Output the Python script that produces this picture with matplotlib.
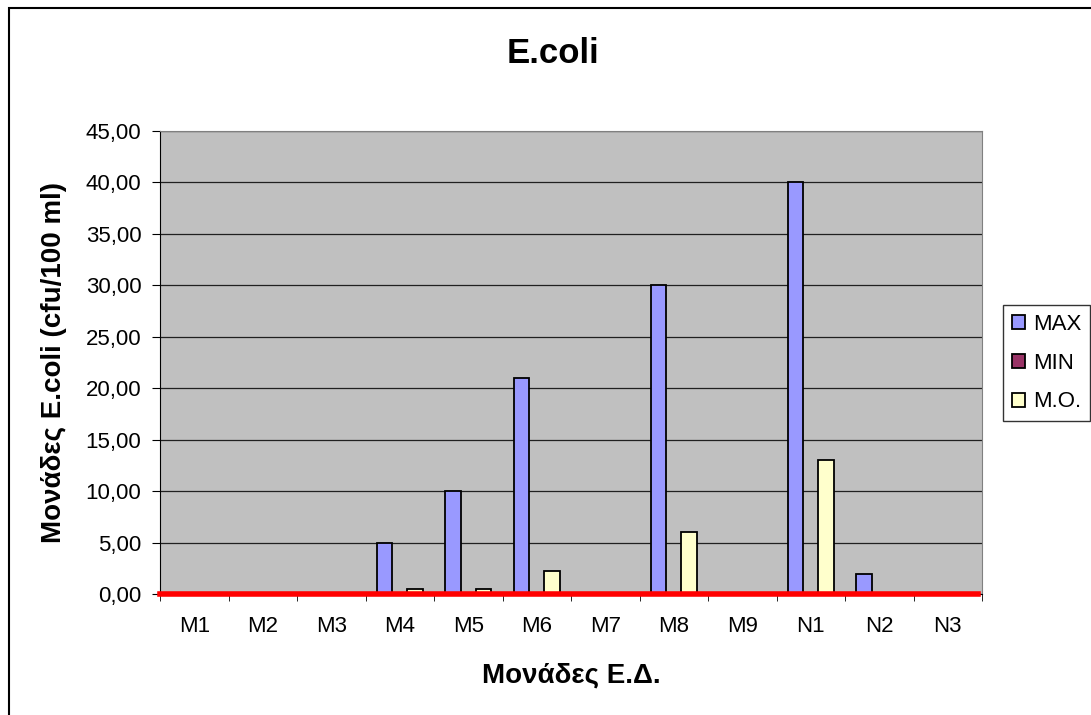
import matplotlib.pyplot as plt
from matplotlib.patches import Rectangle
import numpy as np

plt.rcParams['font.family'] = ['Liberation Sans', 'DejaVu Sans']

units = ['M1', 'M2', 'M3', 'M4', 'M5', 'M6', 'M7', 'M8', 'M9', 'N1', 'N2', 'N3']
max_vals = [0, 0, 0, 5, 10, 21, 0, 30, 0, 40, 1.9, 0]
min_vals = [0, 0, 0, 0, 0, 0, 0, 0, 0, 0, 0, 0]
mo_vals = [0, 0, 0, 0.5, 0.5, 2.2, 0, 6, 0, 13, 0, 0]
y_ticks = np.arange(0, 46, 5)

W, H = 1091, 715
fig = plt.figure(figsize=(W / 100, H / 100), dpi=100)
ax = fig.add_axes([160 / W, 1 - 594 / H, 822 / W, 463 / H])
ax.set_facecolor('#C0C0C0')

x = np.arange(len(units))
w = 1 / 4.5
series = [('MAX', max_vals, '#9999FF'), ('MIN', min_vals, '#993366'), ('M.O.', mo_vals, '#FFFFCC')]
handles = []
for i, (name, vals, col) in enumerate(series):
    b = ax.bar(x + (i - 1) * w, vals, w, color=col, edgecolor='black', linewidth=1.3,
               label=name, zorder=3)
    handles.append(b)

ax.set_xlim(-0.5, len(units) - 0.5)
ax.set_ylim(0, 45)
ax.set_yticks(y_ticks)
ax.set_yticklabels([f'{v:.2f}'.replace('.', ',') for v in y_ticks], fontsize=16)
ax.yaxis.grid(True, color='#202020', linewidth=0.9, zorder=1)
ax.set_axisbelow(True)

ax.set_xticks(x)
ax.set_xticklabels(units, fontsize=16)
ax.set_xticks(np.arange(-0.5, len(units)), minor=True)
ax.tick_params(axis='x', which='major', length=0, pad=15.5)
ax.tick_params(axis='x', which='minor', length=5, direction='out', color='black')
ax.tick_params(axis='y', length=5.5, direction='out', pad=8)

for s in ['top', 'right']:
    ax.spines[s].set_color('#808080')
ax.spines['left'].set_color('black')
ax.spines['bottom'].set_color('black')

# red baseline along zero
ax.axhline(0, xmin=0, xmax=0.995, color='#FF0000', linewidth=4, zorder=5, clip_on=False)

fig.text(553 / W, 1 - 63 / H, 'E.coli', ha='center', va='baseline', fontsize=25, fontweight='bold')
fig.text(571 / W, 1 - 682 / H, 'Μονάδες Ε.Δ.', ha='center', va='baseline',
         fontsize=20, fontweight='bold')
fig.text(54 / W, 1 - 362.5 / H, 'Μονάδες E.coli (cfu/100 ml)', ha='center', va='center',
         rotation=90, fontsize=20, fontweight='bold')

leg = fig.legend(handles=handles, loc='upper left', bbox_to_anchor=(1003 / W, 1 - 305 / H),
                 fontsize=16, frameon=True, fancybox=False, handlelength=0.6,
                 handleheight=0.6, handletextpad=0.35, borderpad=0.4, labelspacing=0.8,
                 borderaxespad=0)
leg.get_frame().set_edgecolor('black')
leg.get_frame().set_linewidth(1.0)

# outer chart border
fig.patches.append(Rectangle((9 / W, -0.1), 1.2, 1.1 - 8.5 / H, transform=fig.transFigure,
                             fill=False, edgecolor='black', linewidth=1.5))

fig.savefig('out.png', dpi=100)
